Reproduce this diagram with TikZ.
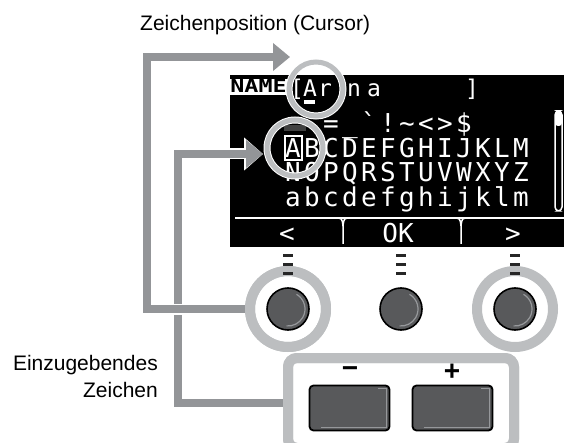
\documentclass[tikz,border=0pt]{standalone}
\usepackage{fontspec}
\setmainfont{Liberation Sans}
\newfontfamily\lcdfont{DejaVu Sans Mono}
\usetikzlibrary{arrows.meta,positioning}

\definecolor{conngray}{RGB}{147,149,152}
\definecolor{ringgray}{RGB}{188,190,192}
\definecolor{knobgray}{RGB}{88,89,91}
\definecolor{shinegray}{RGB}{150,152,155}

\tikzset{
  conn/.style={draw=conngray, line width=8pt, -{Triangle[length=17pt,width=27pt]},
    preaction={draw=white, line width=11pt, -{Triangle[length=19pt,width=32pt]}}},
  ringnode/.style={circle, draw=ringgray, line width=10pt, minimum size=76pt, inner sep=0pt},
  lcdring/.style={circle, draw=white, double=ringgray, double distance=5pt, line width=1pt, inner sep=0pt},
  knob/.style={circle, draw=black, line width=1.6pt, fill=knobgray, minimum size=42pt, inner sep=0pt},
  knobshine/.style={draw=shinegray, line width=1.2pt},
  pmbutton/.style={rectangle, rounded corners=4pt, draw=black, line width=1.8pt, fill=knobgray,
    minimum width=80pt, minimum height=45pt, inner sep=0pt},
  framebox/.style={rectangle, rounded corners=9pt, draw=ringgray, line width=10pt,
    minimum width=226pt, minimum height=90pt, inner sep=0pt},
  tick/.style={draw=black!85, line width=3pt},
  lcdtxt/.style={text=white, font=\lcdfont\fontsize{26}{26}\selectfont, inner sep=0pt, anchor=base},
  lcdsmall/.style={lcdtxt, font=\lcdfont\fontsize{23}{23}\selectfont},
  lcdline/.style={draw=white, line width=1.5pt},
  lbl/.style={font=\fontsize{21}{27}\selectfont, inner sep=0pt},
  keylbl/.style={font=\bfseries\fontsize{28}{28}\selectfont, inner sep=0pt}
}

\begin{document}
\begin{tikzpicture}[x=1pt, y=-1pt]
    \useasboundingbox (0,0) rectangle (564,443);

    % display
    \fill[black] (230,75) rectangle (564,247);
    \fill[white] (230,79) rectangle (287,95);
    \node[font=\lcdfont\bfseries\fontsize{18}{18}\selectfont, inner sep=0pt, anchor=base] (namelbl) at (258.5,93) {\scalebox{1.3}[1]{NAME}};
    \node[lcdsmall] at (297,97) {[};
    \node[lcdsmall] at (310,97) {A};
    \node[lcdsmall] at (325,97) {r};
    \node[lcdsmall] at (354,97) {n};
    \node[lcdsmall] at (374,97) {a};
    \node[lcdsmall] at (472,97) {]};
    \fill[white] (304,100) rectangle (315,104);

    \fill[black!75] (284,125) rectangle (306,131);
    \foreach \c [count=\i from 3] in {{=},{\_},{\textasciigrave},{!},{\textasciitilde},{<},{>},{\$}}
        \node[lcdtxt] at (274+19*\i,133) {\c};
    \foreach \c [count=\i] in {A,B,C,D,E,F,G,H,I,J,K,L,M}
        \node[lcdtxt] at (274+19*\i,158) {\c};
    \foreach \c [count=\i] in {N,O,P,Q,R,S,T,U,V,W,X,Y,Z}
        \node[lcdtxt] at (274+19*\i,182) {\c};
    \foreach \c [count=\i] in {a,b,c,d,e,f,g,h,i,j,k,l,m}
        \node[lcdtxt] at (274+19*\i,207) {\c};
    \draw[lcdline] (285,136) rectangle (302,160);

    \draw[lcdline, rounded corners=4pt] (555,111) rectangle (562,211);
    \fill[white, rounded corners=3pt] (555,111) rectangle (562,126);

    \draw[lcdline] (235,218) -- (564,218);
    \foreach \x in {343,461} {
        \draw[lcdline] (\x-8,218) .. controls (\x-1,218) .. (\x,226) -- (\x,244);
        \draw[lcdline] (\x+8,218) .. controls (\x+1,218) .. (\x,226);
    }
    \node[lcdtxt] at (287,243) {<};
    \node[lcdtxt] at (398,243) {OK};
    \node[lcdtxt] at (513,243) {>};

    \node[lcdring, minimum size=54pt] (curring) at (316,89) {};
    \node[lcdring, minimum size=56pt] (selring) at (295,148) {};

    % knobs and buttons
    \coordinate (curbend) at (147,57);
    \coordinate (curtip) at (290,57);
    \coordinate (selbend) at (178,154);
    \coordinate (seltip) at (263,154);

    \node[framebox] (pmbox) at (401,403) {};
    \node[ringnode] (lring) at (288,309) {};
    \node[ringnode] (rring) at (515,309) {};

    \draw[conn] (pmbox.west) -| (selbend) -- (seltip);
    \draw[conn] (lring.west) -| (curbend) -- (curtip);

    \node[framebox] at (pmbox) {};
    \node[ringnode] at (lring) {};

    \node[knob] (lknob) at (288,309) {};
    \node[knob] (mknob) at (401,309) {};
    \node[knob] (rknob) at (515,309) {};
    \foreach \k in {lknob,mknob,rknob} {
        \draw[knobshine] (\k.center) ++(-60:17) arc[start angle=-60, end angle=95, radius=17];
        \foreach \dy in {-53.5,-44,-35}
            \draw[tick] (\k.center) ++(-5,\dy) -- ++(10,0);
    }

    \node[pmbutton] (minusbtn) at (349.5,408) {};
    \node[pmbutton] (plusbtn) at (452.5,408) {};
    \foreach \b in {minusbtn,plusbtn}
        \draw[knobshine] ([xshift=-12pt,yshift=-4pt]\b.north east) -- ([xshift=-4pt,yshift=-4pt]\b.north east)
            -- ([xshift=-4pt,yshift=4pt]\b.south east) -- ([xshift=12pt,yshift=4pt]\b.south west);
    \node[keylbl] (minuslbl) at (350,372) {−};
    \node[keylbl] (pluslbl) at (452,372) {+};

    % labels
    \node[lbl, anchor=base west] (curlbl) at (140,31) {Zeichenposition (Cursor)};
    \node[lbl, align=right, anchor=east] (charlbl) at (158,376) {Einzugebendes\\Zeichen};

\end{tikzpicture}
\end{document}
